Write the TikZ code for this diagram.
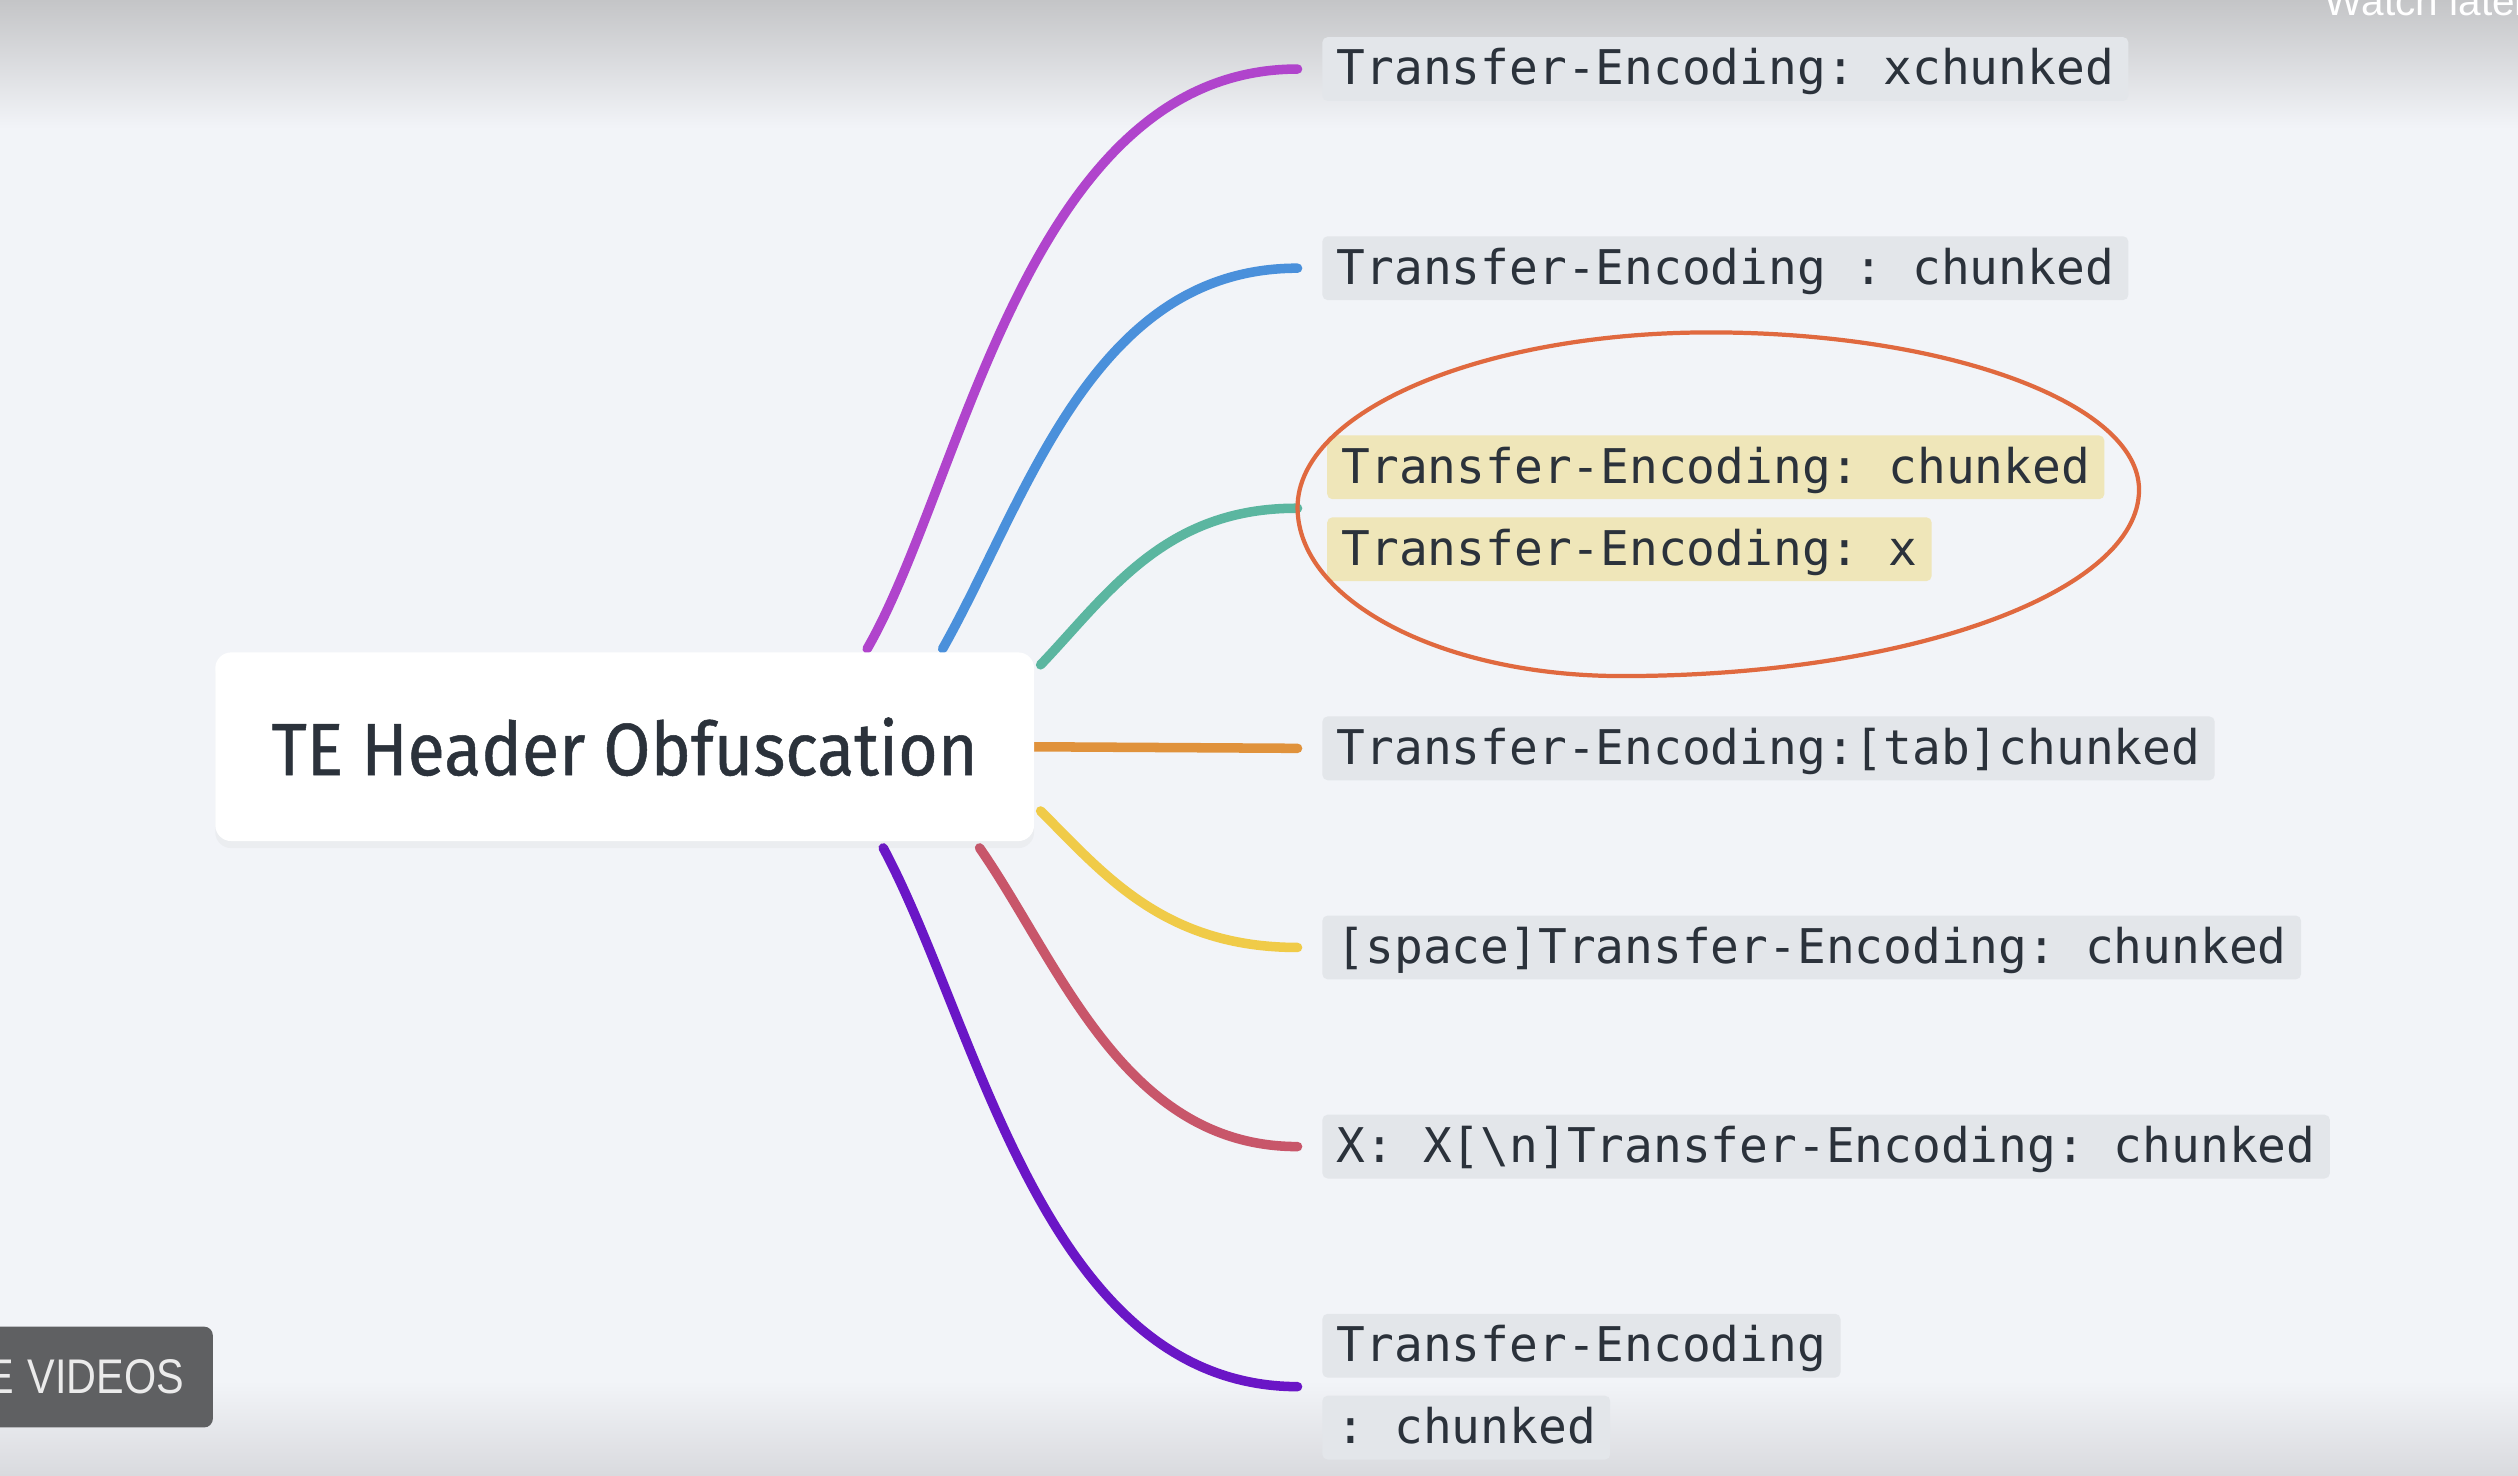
\documentclass[tikz,border=0pt]{standalone}
\usepackage{fontspec}
\setmainfont{Fira Sans}
\newfontfamily\titlef[FakeBold=0.7]{Fira Sans}
\newfontfamily\monof{DejaVu Sans Mono}
\newfontfamily\ytf{Liberation Sans}
\usetikzlibrary{shadows,calc}
\definecolor{bg}{HTML}{F2F4F8}
\definecolor{topgray}{HTML}{C4C5C7}
\definecolor{botgray}{HTML}{D9DADE}
\definecolor{labbg}{HTML}{E3E6EA}
\definecolor{hlbg}{HTML}{EFE6B9}
\definecolor{ink}{HTML}{2B323B}
\definecolor{cpurple}{HTML}{B044CC}
\definecolor{cblue}{HTML}{4A90DB}
\definecolor{cteal}{HTML}{5BB6A0}
\definecolor{corange}{HTML}{E0923C}
\definecolor{cyellow}{HTML}{F0CB48}
\definecolor{cred}{HTML}{C8566A}
\definecolor{cviolet}{HTML}{6A16C6}
\definecolor{cell}{HTML}{E0693F}
\definecolor{ytgray}{HTML}{5F6062}
\begin{document}
\frenchspacing
\begin{tikzpicture}[x=0.016cm,y=-0.016cm,
  lab/.style={anchor=west, fill=labbg, rounded corners=1.5pt,
    font=\monof\fontsize{13.56}{16}\selectfont\frenchspacing, text=ink,
    inner xsep=4.08pt, inner ysep=2.55pt, text height=11pt, text depth=2pt},
  hl/.style={lab, fill=hlbg},
  br/.style={line width=2.7pt, line cap=round},
  rootbox/.style={fill=white, rounded corners=4.5pt, minimum width=232.2pt,
    minimum height=53.5pt, text=ink, font=\titlef\fontsize{21}{24}\selectfont,
    drop shadow={opacity=0.06, shadow xshift=0pt, shadow yshift=-2pt}},
  ytbtn/.style={fill=ytgray, rounded corners=2.5pt, anchor=east, text=white!92!black,
    text width=75pt, align=right, inner xsep=8.2pt, minimum height=28.6pt,
    font=\ytf\fontsize{13.8}{14}\selectfont},
]
\useasboundingbox (0,0) rectangle (1568,919);
\clip (0,0) rectangle (1568,919);
% background
\fill[bg] (0,0) rectangle (1568,919);
\shade[top color=topgray, bottom color=bg] (0,0) rectangle (1568,80);
\shade[top color=bg, bottom color=botgray] (0,860) rectangle (1568,919);

% labels
\node[lab] (l1) at (823,43) {Transfer-Encoding: xchunked};
\node[lab] (l2) at (823,167) {Transfer-Encoding : chunked};
\node[hl] (l3a) at (826,291) {Transfer-Encoding: chunked};
\node[hl] (l3b) at (826,342) {Transfer-Encoding: x};
\node[lab] (l4) at (823,466) {Transfer-Encoding:[tab]chunked};
\node[lab] (l5) at (823,590) {[space]Transfer-Encoding: chunked};
\node[lab] (l6) at (823,714) {X: X[\textbackslash n]Transfer-Encoding: chunked};
\node[lab] (l7a) at (823,838) {Transfer-Encoding};
\node[lab] (l7b) at (823,889) {: chunked};

% branch coordinates
\coordinate (s1) at (540,404);
\coordinate (s2) at (587,404);
\coordinate (s3) at (648,414);
\coordinate (s4) at (640,465);
\coordinate (s5) at (648,505);
\coordinate (s6) at (610,528);
\coordinate (s7) at (550,528);
\coordinate (e1) at ($(l1.west)+(-15,0)$);
\coordinate (e2) at ($(l2.west)+(-15,0)$);
\coordinate (e3) at ($(l3a.west)!0.5!(l3b.west)+(-18,0)$);
\coordinate (e4) at ($(l4.west)+(-15,0)$);
\coordinate (e5) at ($(l5.west)+(-15,0)$);
\coordinate (e6) at ($(l6.west)+(-15,0)$);
\coordinate (e7) at ($(l7a.west)!0.5!(l7b.west)+(-15,0)$);

\draw[br, cpurple] (s1) .. controls (600,300) and (640,43) .. (e1);
\draw[br, cblue] (s2) .. controls (640,310) and (680,167) .. (e2);
\draw[br, cteal] (s3) .. controls (690,370) and (725,316) .. (e3);
\draw[br, corange] (s4) -- (e4);
\draw[br, cyellow] (s5) .. controls (688,545) and (725,590) .. (e5);
\draw[br, cred] (s6) .. controls (660,600) and (700,714) .. (e6);
\draw[br, cviolet] (s7) .. controls (610,640) and (650,863) .. (e7);

% ellipse
\draw[cell, line width=1.2pt]
  (808,316) .. controls (808,256) and (923,207) .. (1065,207)
            .. controls (1212,207) and (1332,251) .. (1332,305)
            .. controls (1332,369) and (1188,421) .. (1010,421)
            .. controls (898,421) and (808,374) .. cycle;

% root
\node[rootbox] (root) at (389,465) {\scalebox{0.92}[1]{TE Header Obfuscation}};

% video overlay elements
\node[ytbtn] (more) at (133,857.5) {\scalebox{0.85}[1]{E VIDEOS}};
\node[anchor=base west, text=white, font=\ytf\fontsize{11.5}{12}\selectfont] (wl) at (1440,9.5) {Watch later};
\end{tikzpicture}
\end{document}
